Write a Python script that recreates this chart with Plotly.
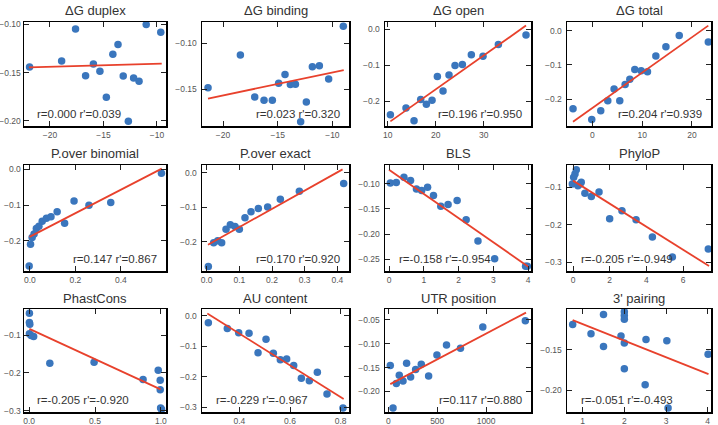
import plotly.graph_objects as go

# ---------------- data ----------------
titles = ["ΔG duplex", "ΔG binding", "ΔG open", "ΔG total",
          "P.over binomial", "P.over exact", "BLS", "PhyloP",
          "PhastCons", "AU content", "UTR position", "3' pairing"]
notes = ["r=0.000 r'=0.039", "r=0.023 r'=0.320", "r=0.196 r'=0.950", "r=0.204 r'=0.939",
         "r=0.147 r'=0.867", "r=0.170 r'=0.920", "r=-0.158 r'=-0.954", "r=-0.205 r'=-0.949",
         "r=-0.205 r'=-0.920", "r=-0.229 r'=-0.967", "r=0.117 r'=0.880", "r=-0.051 r'=-0.493"]

dg_duplex_x = [-21.91, -18.91, -17.61, -16.67, -15.94, -15.33, -14.73, -14.12, -13.64, -13.15, -12.67, -12.18, -11.67, -11.00, -9.64]
dg_duplex_y = [-0.1441, -0.1379, -0.1048, -0.1531, -0.1410, -0.1486, -0.1755, -0.1310, -0.1210, -0.1534, -0.2003, -0.1555, -0.1590, -0.1003, -0.1083]
dg_duplex_fit_x = [-21.97, -9.55]
dg_duplex_fit_y = [-0.1445, -0.1407]

dg_binding_x = [-21.37, -18.41, -17.10, -16.25, -15.49, -14.91, -14.33, -13.84, -13.38, -12.90, -12.38, -11.83, -11.19, -10.34, -9.0]
dg_binding_y = [-0.1482, -0.1128, -0.1582, -0.1617, -0.1617, -0.1433, -0.1340, -0.1447, -0.1443, -0.1848, -0.1635, -0.1255, -0.1245, -0.1387, -0.0819]
dg_binding_fit_x = [-21.37, -8.96]
dg_binding_fit_y = [-0.1599, -0.1291]

dg_open_x = [10.56, 13.82, 15.49, 16.88, 18.06, 19.24, 20.35, 21.53, 22.78, 24.03, 25.56, 27.43, 29.86, 33.06, 38.82]
dg_open_y = [-0.2371, -0.2181, -0.2534, -0.1946, -0.2081, -0.1964, -0.1312, -0.1710, -0.1267, -0.1005, -0.0977, -0.0706, -0.0751, -0.0425, -0.0163]
dg_open_fit_x = [10.56, 38.82]
dg_open_fit_y = [-0.2552, 0.0100]

dg_total_x = [-3.89, -0.13, 1.68, 3.09, 4.36, 5.50, 6.58, 7.52, 8.52, 9.80, 11.07, 12.75, 14.77, 17.45, 23.29]
dg_total_y = [-0.2276, -0.2590, -0.2333, -0.2048, -0.1705, -0.2048, -0.1571, -0.1419, -0.1133, -0.1171, -0.1200, -0.0743, -0.0476, -0.0143, -0.0333]
dg_total_fit_x = [-3.89, 23.29]
dg_total_fit_y = [-0.2657, 0.0143]

pbin_x = [-0.003, 0.003, 0.010, 0.0186, 0.0286, 0.040, 0.0543, 0.0729, 0.0929, 0.120, 0.1529, 0.1943, 0.260, 0.3557, 0.5786]
pbin_y = [-0.2701, -0.2093, -0.1907, -0.1804, -0.1654, -0.1589, -0.1449, -0.1364, -0.1327, -0.1187, -0.1505, -0.0888, -0.1000, -0.0925, -0.0112]
pbin_fit_x = [-0.0014, 0.580]
pbin_fit_y = [-0.1888, 0.0019]

pexact_x = [0.0051, 0.0214, 0.0337, 0.0459, 0.0592, 0.0724, 0.0867, 0.100, 0.1173, 0.1357, 0.1582, 0.1867, 0.2255, 0.2837, 0.4194]
pexact_y = [-0.2722, -0.2029, -0.1971, -0.2029, -0.1639, -0.1512, -0.1561, -0.1639, -0.1307, -0.1132, -0.1034, -0.0995, -0.0771, -0.0537, -0.0312]
pexact_fit_x = [0.004, 0.416]
pexact_fit_y = [-0.2088, 0.0098]

bls_x = [0.038, 0.21, 0.43, 0.62, 0.79, 0.94, 1.11, 1.28, 1.49, 1.70, 1.96, 2.22, 2.56, 3.04, 3.93, 3.98]
bls_y = [-0.098, -0.0973, -0.0867, -0.0934, -0.110, -0.1133, -0.1066, -0.1232, -0.1445, -0.1411, -0.1332, -0.1717, -0.2141, -0.2493, -0.2646, -0.2646]
bls_fit_x = [0.0, 4.02]
bls_fit_y = [-0.0715, -0.2659]

phylop_x = [-0.036, 0.036, 0.109, 0.18, 0.27, 0.38, 0.45, 0.65, 1.0, 1.42, 2.0, 2.67, 3.44, 4.33, 5.42, 7.38]
phylop_y = [-0.0911, -0.0733, -0.0644, -0.0529, -0.0956, -0.0911, -0.0867, -0.116, -0.1249, -0.1124, -0.1844, -0.1631, -0.1871, -0.2333, -0.2867, -0.2653]
phylop_fit_x = [0.0, 7.42]
phylop_fit_y = [-0.0822, -0.3107]

phast_x = [0.002, 0.002, 0.005, 0.002, 0.015, 0.034, 0.157, 0.493, 0.865, 0.980, 0.995, 0.995, 0.998, 1.005]
phast_y = [-0.042, -0.0662, -0.0714, -0.0965, -0.1009, -0.1035, -0.1745, -0.1719, -0.2177, -0.1926, -0.2195, -0.2446, -0.2931, -0.2965]
phast_fit_x = [0.002, 0.998]
phast_fit_y = [-0.0835, -0.2437]

au_x = [0.2776, 0.3526, 0.3974, 0.4382, 0.4737, 0.5053, 0.5342, 0.5618, 0.5868, 0.6145, 0.6447, 0.6763, 0.7079, 0.746, 0.8092]
au_y = [-0.0224, -0.0416, -0.0555, -0.0576, -0.1217, -0.0768, -0.1227, -0.1441, -0.1419, -0.1633, -0.2049, -0.2134, -0.1857, -0.2572, -0.3031]
au_fit_x = [0.2737, 0.8118]
au_fit_y = [0.0075, -0.2732]

utr_x = [20, 48, 82, 112, 150, 187, 228, 279, 337, 412, 497, 595, 738, 966, 1401]
utr_y = [-0.1459, -0.2349, -0.1836, -0.1664, -0.1781, -0.1411, -0.1699, -0.1541, -0.1432, -0.1678, -0.124, -0.1027, -0.1096, -0.0651, -0.0521]
utr_fit_x = [20, 1408]
utr_fit_y = [-0.1849, -0.0349]

pair_x = [0.76, 1.2, 1.5, 1.5, 1.92, 2.0, 2.0, 2.0, 2.0, 2.0, 2.52, 2.50, 3.02, 3.05, 4.01]
pair_y = [-0.1191, -0.1305, -0.1069, -0.1463, -0.1333, -0.1033, -0.1081, -0.1126, -0.1419, -0.1736, -0.1374, -0.1931, -0.1390, -0.2220, -0.1557]
pair_fit_x = [0.76, 4.02]
pair_fit_y = [-0.1138, -0.1801]

# tick values
x_ticks = [[-20, -15, -10], [-20, -15, -10], [10, 20, 30], [0, 10, 20],
           [0.0, 0.2, 0.4], [0.0, 0.1, 0.2, 0.3, 0.4], [0, 1, 2, 3, 4], [0, 2, 4, 6],
           [0.0, 0.5, 1.0], [0.4, 0.6, 0.8], [0, 500, 1000], [1, 2, 3, 4]]
y_ticks = [[-0.10, -0.15, -0.20], [-0.10, -0.15], [0.0, -0.1, -0.2], [0.0, -0.1, -0.2],
           [0.0, -0.1, -0.2], [0.0, -0.1, -0.2], [-0.10, -0.15, -0.20, -0.25], [-0.1, -0.2, -0.3],
           [-0.1, -0.2, -0.3], [0.0, -0.1, -0.2, -0.3], [-0.05, -0.10, -0.15, -0.20], [-0.15, -0.20]]

# ---------------- layout config ----------------
xs = [dg_duplex_x, dg_binding_x, dg_open_x, dg_total_x, pbin_x, pexact_x, bls_x, phylop_x, phast_x, au_x, utr_x, pair_x]
ys = [dg_duplex_y, dg_binding_y, dg_open_y, dg_total_y, pbin_y, pexact_y, bls_y, phylop_y, phast_y, au_y, utr_y, pair_y]
fxs = [dg_duplex_fit_x, dg_binding_fit_x, dg_open_fit_x, dg_total_fit_x, pbin_fit_x, pexact_fit_x, bls_fit_x, phylop_fit_x, phast_fit_x, au_fit_x, utr_fit_x, pair_fit_x]
fys = [dg_duplex_fit_y, dg_binding_fit_y, dg_open_fit_y, dg_total_fit_y, pbin_fit_y, pexact_fit_y, bls_fit_y, phylop_fit_y, phast_fit_y, au_fit_y, utr_fit_y, pair_fit_y]

x_ranges = [[-22.43, -9.15], [-21.92, -8.48], [9.44, 39.86], [-5.1, 23.83],
            [-0.0257, 0.5986], [-0.0143, 0.4357], [-0.115, 4.086], [-0.327, 7.527],
            [-0.039, 1.039], [0.2526, 0.8329], [-34, 1459], [0.624, 4.08]]
y_ranges = [[-0.2052, -0.0976], [-0.1894, -0.0773], [-0.268, 0.0199], [-0.278, 0.0248],
            [-0.284, 0.0121], [-0.285, 0.0224], [-0.2739, -0.0622], [-0.324, -0.0404],
            [-0.3035, -0.0307], [-0.316, 0.0224], [-0.2432, -0.0274], [-0.2268, -0.1000]]
x_fmt = ["d", "d", "d", "d", ".1f", ".1f", "d", "d", ".1f", ".1f", "d", "d"]
y_fmt = [".2f", ".2f", ".1f", ".1f", ".1f", ".1f", ".2f", ".1f", ".1f", ".1f", ".2f", ".2f"]
note_side = ["l", "r", "r", "r", "r", "r", "l", "l", "l", "l", "r", "l"]

W, H = 718, 425
col_px = [(24, 166), (202, 349), (385, 531), (567, 711)]
row_px = [(22, 126), (165, 271), (309, 412)]

BLUE = "#3a76bd"
RED = "#e8412c"
FONT = "Liberation Sans, Arial, sans-serif"

fig = go.Figure()
layout = dict(
    template="none",
    width=W, height=H, margin=dict(l=0, r=0, t=0, b=0, pad=0, autoexpand=False),
    paper_bgcolor="white", plot_bgcolor="white", showlegend=False,
    font=dict(family=FONT, color="#444"),
)
annotations = []
for i in range(12):
    r, c = divmod(i, 4)
    k = "" if i == 0 else str(i + 1)
    xa, ya = "x" + k, "y" + k
    fig.add_trace(go.Scatter(x=xs[i], y=ys[i], mode="markers", xaxis=xa, yaxis=ya,
                             marker=dict(color=BLUE, size=7.5, line=dict(width=0)),
                             cliponaxis=True, hoverinfo="skip"))
    fig.add_trace(go.Scatter(x=fxs[i], y=fys[i], mode="lines", xaxis=xa, yaxis=ya,
                             line=dict(color=RED, width=1.8), hoverinfo="skip"))
    x0, x1 = col_px[c]
    y0, y1 = row_px[r]
    common = dict(showline=True, linecolor="black", linewidth=1.5, mirror="allticks",
                  ticks="inside", ticklen=5, tickwidth=1, tickcolor="#222",
                  showgrid=False, zeroline=False, automargin=False,
                  tickfont=dict(size=8.5, color="#555", family=FONT))
    layout["xaxis" + k] = dict(common, domain=[x0 / W, x1 / W], anchor=ya, range=x_ranges[i],
                                tickvals=x_ticks[i], tickformat=x_fmt[i])
    layout["yaxis" + k] = dict(common, domain=[1 - y1 / H, 1 - y0 / H], anchor=xa, range=y_ranges[i],
                                tickvals=y_ticks[i], tickformat=y_fmt[i],
                                ticklabelstandoff=0 if c == 0 else 2)
    annotations.append(dict(text=titles[i], x=(x0 + x1) / 2 / W, y=1 - (y0 - 11) / H,
                            xref="paper", yref="paper", showarrow=False,
                            xanchor="center", yanchor="middle",
                            font=dict(size=13, color="#333", family=FONT)))
    if note_side[i] == "l":
        nx, anc = 0.08, "left"
    else:
        nx, anc = 0.95, "right"
    annotations.append(dict(text=notes[i], x=nx, y=0.115, xref=xa + " domain", yref=ya + " domain",
                            showarrow=False, xanchor=anc, yanchor="middle",
                            font=dict(size=11.5, color="#333", family=FONT)))
layout["annotations"] = annotations
fig.update_layout(**layout)
fig.write_html("out.html",
               config={"displayModeBar": False, "staticPlot": True},
               post_script="document.body.style.margin='0';document.body.style.padding='0';")
